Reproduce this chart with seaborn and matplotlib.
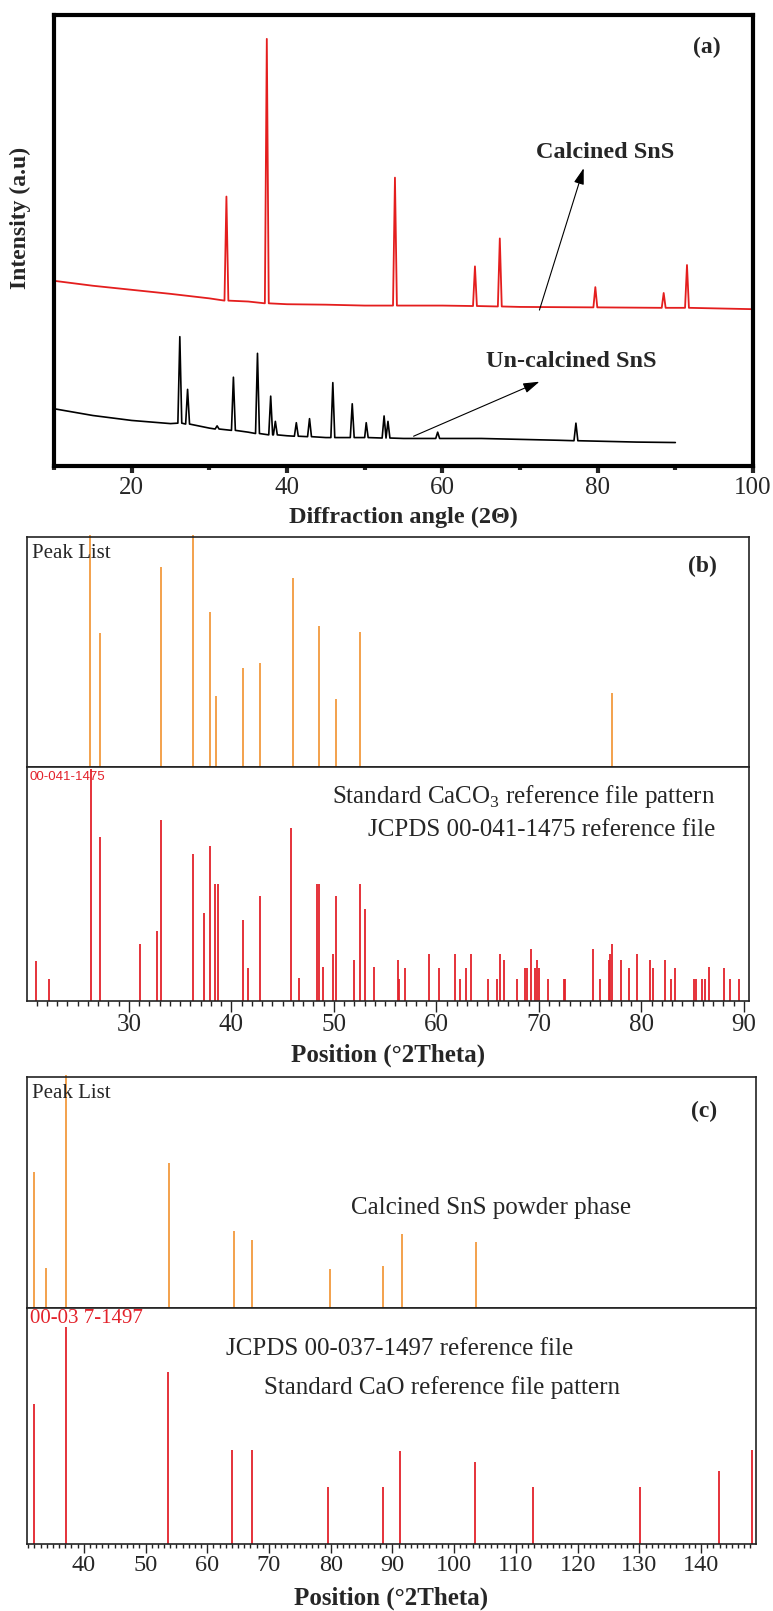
import numpy as np
import pandas as pd
import matplotlib
matplotlib.use("Agg")
import matplotlib.pyplot as plt
from matplotlib.ticker import MultipleLocator, FixedLocator, NullLocator
import seaborn as sns

# ---- panel (a): XRD patterns, baseline anchors + peaks
calc_base_x = [10, 15, 20, 25, 30, 35, 40, 45, 50, 60, 70, 80, 90, 100]
calc_base_y = [41.0, 39.9, 39.0, 38.1, 37.1, 36.4, 35.8, 35.7, 35.5, 35.5, 35.2, 35.1, 35.0, 34.7]
calc_peak_x = [32.2, 37.4, 53.9, 64.2, 67.4, 79.7, 88.5, 91.5]
calc_peak_y = [59.7, 94.7, 63.9, 44.2, 50.4, 39.6, 38.3, 44.5]
calc_peak_foot = [36.6, 36.0, 35.5, 35.4, 35.3, 35.1, 35.0, 35.0]

uncalc_base_x = [10, 15, 20, 25, 30, 35, 40, 45, 50, 55, 60, 65, 70, 75, 80, 85, 90]
uncalc_base_y = [12.6, 11.1, 10.0, 9.3, 8.3, 7.4, 6.6, 6.2, 6.2, 6.0, 6.0, 6.0, 5.8, 5.6, 5.4, 5.2, 5.1]
uncalc_peak_x = [26.2, 27.2, 31.0, 33.1, 36.2, 37.9, 38.5, 41.2, 42.9, 45.9, 48.4, 50.2, 52.5, 53.0, 59.4, 77.2]
uncalc_peak_y = [28.6, 16.9, 8.8, 19.6, 24.9, 15.4, 9.8, 9.5, 10.4, 18.4, 13.7, 9.5, 11.0, 9.8, 7.4, 9.4]
uncalc_peak_foot = [9.4, 9.2, 8.1, 7.8, 7.1, 6.8, 6.8, 6.5, 6.4, 6.2, 6.2, 6.2, 6.1, 6.1, 6.0, 5.5]

# ---- panel (b): peak list + JCPDS 00-041-1475 sticks
b_peak_pos = [26.2, 27.2, 33.1, 36.2, 37.9, 38.5, 41.15, 42.8, 46.0, 48.5, 50.2, 52.5, 77.1]
b_peak_int = [101, 58.3, 87.0, 101, 67.4, 30.9, 43.0, 45.2, 82.2, 61.3, 29.6, 58.7, 32.2]

b_ref_pos = [20.9, 22.2, 26.25, 27.2, 31.1, 32.7, 33.1, 36.2, 37.3, 37.9, 38.4, 38.7,
             41.15, 41.6, 42.8, 45.8, 46.6, 48.3, 48.5, 48.9, 49.9, 50.2, 52.0, 52.5,
             53.0, 53.9, 56.25, 56.35, 56.9, 59.3, 60.3, 61.8, 62.3, 62.9, 63.4, 65.0,
             65.9, 66.2, 66.6, 67.9, 68.65, 68.85, 69.2, 69.6, 69.8, 70.05, 70.9, 72.4,
             72.55, 75.3, 76.0, 76.8, 76.9, 77.1, 78.0, 78.8, 79.6, 80.8, 81.15, 82.35,
             82.9, 83.3, 85.1, 85.35, 85.9, 86.25, 86.6, 88.1, 88.65, 89.5]
b_ref_int = [17.2, 9.5, 99.0, 70.2, 24.4, 29.9, 77.4, 62.8, 37.6, 66.2, 50.0, 50.0,
             34.6, 14.1, 44.9, 73.9, 9.8, 50.0, 50.0, 14.7, 20.1, 44.9, 17.5, 50.0,
             39.3, 14.5, 17.5, 9.5, 14.1, 20.1, 14.1, 20.1, 9.5, 14.1, 20.1, 9.5,
             9.5, 20.1, 17.5, 9.5, 14.1, 14.1, 22.2, 14.1, 17.5, 14.1, 9.5, 9.5,
             9.5, 22.2, 9.5, 17.5, 20.1, 24.4, 17.5, 14.1, 20.1, 17.5, 14.1, 17.5,
             9.5, 14.1, 9.5, 9.5, 9.5, 9.5, 14.5, 14.1, 9.5, 9.5]

# ---- panel (c): peak list + JCPDS 00-037-1497 sticks
c_peak_pos = [31.9, 33.9, 37.1, 53.8, 64.3, 67.3, 79.9, 88.5, 91.5, 103.6]
c_peak_int = [59.0, 17.3, 101, 62.9, 33.5, 29.4, 16.7, 18.2, 32.2, 28.7]

c_ref_pos = [31.9, 37.1, 53.6, 64.0, 67.3, 79.5, 88.5, 91.3, 103.3, 112.7, 130.1, 142.9, 148.2]
c_ref_int = [59.3, 91.8, 73.0, 39.8, 39.8, 24.3, 24.3, 39.4, 34.6, 24.3, 24.3, 31.1, 39.8]

ORANGE = "#F29A3E"
RED = "#E3222B"
CURVE_RED = "#E41E1E"

sns.set_style("white")
plt.rcParams["font.family"] = ["Liberation Serif", "DejaVu Serif"]
plt.rcParams["mathtext.fontset"] = "custom"
plt.rcParams["mathtext.rm"] = "Liberation Serif"


def build_trace(bx, by, px, py, pf, w=0.25):
    xs, ys = list(bx), list(by)
    for p, top, foot in zip(px, py, pf):
        xs += [p - w, p, p + w]
        ys += [foot, top, foot]
    return pd.DataFrame({"angle": xs, "intensity": ys}).sort_values("angle")


W, H = 773, 1611
fig = plt.figure(figsize=(W / 100, H / 100), dpi=100)


def rect(x0, y0, x1, y1):
    return [x0 / W, 1 - y1 / H, (x1 - x0) / W, (y1 - y0) / H]


# ================= (a)
ax = fig.add_axes(rect(54, 15, 753, 465.5))
calc = build_trace(calc_base_x, calc_base_y, calc_peak_x, calc_peak_y, calc_peak_foot)
uncalc = build_trace(uncalc_base_x, uncalc_base_y, uncalc_peak_x, uncalc_peak_y, uncalc_peak_foot)
sns.lineplot(data=calc, x="angle", y="intensity", sort=False, estimator=None,
             color=CURVE_RED, lw=1.3, ax=ax)
sns.lineplot(data=uncalc, x="angle", y="intensity", sort=False, estimator=None,
             color="black", lw=1.2, ax=ax)
ax.set_xlim(10, 100)
ax.set_ylim(0, 100)
ax.xaxis.set_major_locator(MultipleLocator(20))
ax.xaxis.set_minor_locator(FixedLocator([10, 30, 50, 70, 90]))
ax.yaxis.set_major_locator(NullLocator())
ax.tick_params(axis="x", which="major", direction="out", length=5, width=3,
               labelsize=18, pad=3, bottom=True)
ax.tick_params(axis="x", which="minor", direction="out", length=3, width=3, bottom=True)
for s in ax.spines.values():
    s.set_linewidth(3)
    s.set_color("black")
ax.set_xlabel("Diffraction angle (2Θ)", fontsize=17.5, fontweight="bold", va="center")
ax.xaxis.set_label_coords(0.5, -0.115)
ax.set_ylabel("Intensity (a.u)", fontsize=17, fontweight="bold", va="center")
ax.yaxis.set_label_coords(-0.048, 0.55)
ax.text(0.934, 0.927, "(a)", transform=ax.transAxes, fontsize=17, fontweight="bold",
        ha="center", va="center")
ax.text(81.0, 69.5, "Calcined SnS", fontsize=17.5, fontweight="bold", ha="center", va="center")
ax.text(76.6, 23.1, "Un-calcined SnS", fontsize=17.5, fontweight="bold", ha="center", va="center")
arrow = dict(arrowstyle="-|>,head_length=0.7,head_width=0.22", color="black", lw=0.8,
             shrinkA=0, shrinkB=0, mutation_scale=14)
ax.annotate("", xy=(78.2, 66.0), xytext=(72.5, 34.5), arrowprops=arrow)
ax.annotate("", xy=(72.5, 18.6), xytext=(56.3, 6.5), arrowprops=arrow)


def stick_pair(y_top, y_mid, y_bot, x0, x1, xlim, peak_pos, peak_int, ref_pos, ref_int,
               major_len, minor_len, tick_size):
    top = fig.add_axes(rect(x0, y_top, x1, y_mid))
    bot = fig.add_axes(rect(x0, y_mid, x1, y_bot))
    top.vlines(peak_pos, 0, peak_int, color=ORANGE, lw=1.3, clip_on=False)
    bot.vlines(ref_pos, 0, ref_int, color=RED, lw=1.3)
    for a in (top, bot):
        a.set_xlim(*xlim)
        a.set_ylim(0, 100)
        a.yaxis.set_major_locator(NullLocator())
        for s in a.spines.values():
            s.set_linewidth(1.2)
            s.set_color("#222222")
    top.xaxis.set_major_locator(NullLocator())
    bot.xaxis.set_major_locator(MultipleLocator(10))
    bot.xaxis.set_minor_locator(MultipleLocator(1))
    bot.tick_params(axis="x", which="major", direction="out", length=major_len, width=1,
                    labelsize=tick_size, pad=1.5, bottom=True, color="#222222")
    bot.tick_params(axis="x", which="minor", direction="out", length=minor_len, width=1,
                    bottom=True, color="#222222")
    bot.set_xlabel("Position (°2Theta)", fontsize=18, fontweight="bold", va="center")
    bot.xaxis.set_label_coords(0.5, -0.23)
    top.text(0.007, 0.93, "Peak List", transform=top.transAxes, fontsize=15,
             ha="left", va="center")
    return top, bot


# ================= (b)
tb, bb = stick_pair(537, 767, 1001, 27, 749, (20.05, 90.5), b_peak_pos, b_peak_int,
                    b_ref_pos, b_ref_int, 8, 3.5, 18)
tb.text(0.936, 0.87, "(b)", transform=tb.transAxes, fontsize=17, fontweight="bold",
        ha="center", va="center")
bb.text(0.003, 0.985, "00-041-1475", transform=bb.transAxes, fontsize=9.5, color=RED,
        family=["Liberation Sans", "DejaVu Sans"], ha="left", va="top")
bb.text(0.953, 0.872, "Standard CaCO$_3$ reference file pattern", transform=bb.transAxes,
        fontsize=18, ha="right", va="center")
bb.text(0.953, 0.731, "JCPDS 00-041-1475 reference file", transform=bb.transAxes,
        fontsize=18, ha="right", va="center")

# ================= (c)
tc, bc = stick_pair(1077, 1308, 1544, 27, 756, (30.8, 148.9), c_peak_pos, c_peak_int,
                    c_ref_pos, c_ref_int, 6.5, 3, 17.5)
tc.text(0.929, 0.853, "(c)", transform=tc.transAxes, fontsize=17, fontweight="bold",
        ha="center", va="center")
tc.text(0.636, 0.433, "Calcined SnS powder phase", transform=tc.transAxes,
        fontsize=18, ha="center", va="center")
bc.text(0.004, 0.995, "00-03 7-1497", transform=bc.transAxes, fontsize=15, color=RED,
        ha="left", va="top")
bc.text(0.273, 0.826, "JCPDS 00-037-1497 reference file", transform=bc.transAxes,
        fontsize=18, ha="left", va="center")
bc.text(0.325, 0.661, "Standard CaO reference file pattern", transform=bc.transAxes,
        fontsize=18, ha="left", va="center")

fig.savefig("out.png", dpi=100)
